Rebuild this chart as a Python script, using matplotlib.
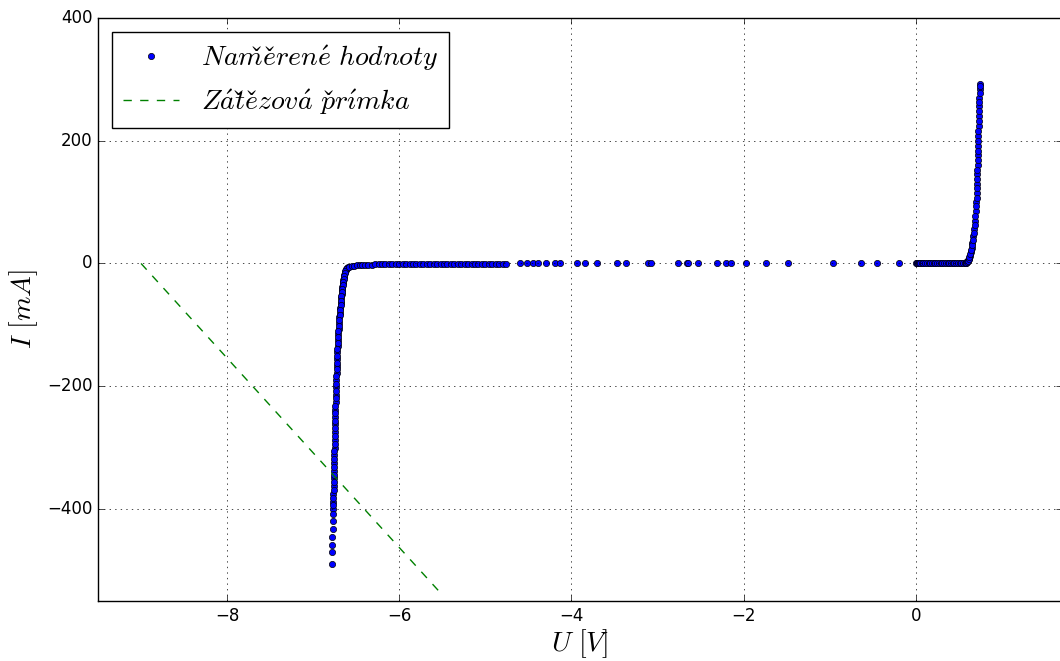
import matplotlib
matplotlib.use('Agg')
import matplotlib.pyplot as plt

# reverse breakdown branch (Zener)
zener_u = [-6.60, -6.61, -6.62, -6.63, -6.64, -6.645, -6.65, -6.655, -6.66, -6.665,
           -6.67, -6.675, -6.68, -6.685, -6.69, -6.695, -6.70, -6.705, -6.71, -6.713,
           -6.716, -6.719, -6.722, -6.725, -6.728, -6.731, -6.734, -6.737, -6.740, -6.742,
           -6.744, -6.746, -6.748, -6.750, -6.752, -6.754, -6.756, -6.758, -6.760, -6.762,
           -6.764, -6.766, -6.768, -6.770, -6.772, -6.774, -6.776, -6.777, -6.778, -6.780]
zener_i = [-6, -8, -11, -14, -18, -22, -27, -32, -38, -44,
           -50, -57, -64, -72, -80, -88, -97, -106, -115, -125,
           -135, -145, -156, -167, -178, -190, -202, -214, -226, -238,
           -250, -262, -275, -288, -300, -312, -325, -338, -350, -362,
           -375, -388, -400, -408, -420, -432, -445, -458, -470, -489]

# second sweep of the breakdown branch
zener2_u = [-6.605, -6.615, -6.625, -6.635, -6.6425, -6.6475, -6.6525, -6.6575, -6.6625, -6.6675,
            -6.6725, -6.6775, -6.6825, -6.6875, -6.6925, -6.6975, -6.7025, -6.7075, -6.7115, -6.7145,
            -6.7175, -6.7205, -6.7235, -6.7265, -6.7295, -6.7325, -6.7355, -6.7385, -6.741, -6.743,
            -6.745, -6.747, -6.749, -6.751, -6.753, -6.755, -6.757, -6.759, -6.761, -6.763,
            -6.765, -6.767]
zener2_i = [-7, -9.5, -12.5, -16, -20, -24.5, -29.5, -35, -41, -47,
            -53.5, -60.5, -68, -76, -84, -92.5, -101.5, -110.5, -120, -130,
            -140, -150.5, -161.5, -172.5, -184, -196, -208, -220, -232, -244,
            -256, -268.5, -281.5, -294, -306, -318.5, -331.5, -344, -356, -368.5,
            -381.5, -394]

# reverse region below breakdown (dense part)
rev_u = [-6.58, -6.55, -6.52, -6.49, -6.46, -6.43, -6.40, -6.36, -6.32, -6.28,
         -6.24, -6.20, -6.16, -6.12, -6.08, -6.04, -6.00, -5.96, -5.92, -5.88,
         -5.84, -5.80, -5.76, -5.72, -5.68, -5.64, -5.60, -5.56, -5.52, -5.48,
         -5.44, -5.40, -5.36, -5.32, -5.28, -5.24, -5.20, -5.16, -5.12, -5.08,
         -5.04, -5.00, -4.96, -4.92, -4.88, -4.84, -4.80, -4.76]
rev_i = [-5, -4, -3.5, -3, -2.8, -2.5, -2.3, -2, -1.8, -1.6,
         -1.5, -1.4, -1.3, -1.2, -1.1, -1.0, -1.0, -0.9, -0.9, -0.8,
         -0.8, -0.7, -0.7, -0.6, -0.6, -0.6, -0.5, -0.5, -0.5, -0.5,
         -0.4, -0.4, -0.4, -0.4, -0.3, -0.3, -0.3, -0.3, -0.3, -0.2,
         -0.2, -0.2, -0.2, -0.2, -0.2, -0.1, -0.1, -0.1]

# sparse points between -4.6 V and 0 V
sparse_u = [-4.60, -4.52, -4.45, -4.39, -4.29, -4.19, -4.13, -3.94, -3.84, -3.70,
            -3.47, -3.36, -3.11, -3.07, -2.76, -2.66, -2.64, -2.53, -2.31, -2.20,
            -2.15, -1.97, -1.74, -1.48, -0.96, -0.63, -0.45, -0.19]
sparse_i = [0, 0, 0, 0, 0, 0, 0, 0, 0, 0,
            0, 0, 0, 0, 0, 0, 0, 0, 0, 0,
            0, 0, 0, 0, 0, 0, 0, 0]

# forward branch
fwd_u = [0.00, 0.01, 0.02, 0.03, 0.04, 0.05, 0.07, 0.09, 0.11, 0.13,
         0.15, 0.17, 0.19, 0.21, 0.23, 0.25, 0.27, 0.29, 0.31, 0.33,
         0.35, 0.37, 0.39, 0.41, 0.43, 0.45, 0.47, 0.49, 0.51, 0.53,
         0.55, 0.57,
         0.58, 0.59, 0.60, 0.61, 0.62, 0.63, 0.64, 0.65, 0.66, 0.67,
         0.68, 0.69, 0.70, 0.705, 0.71, 0.713, 0.716, 0.719, 0.722, 0.725,
         0.728, 0.731, 0.734, 0.737, 0.740, 0.743, 0.745]
fwd_i = [0, 0, 0, 0, 0, 0, 0, 0, 0, 0,
         0, 0, 0, 0, 0, 0, 0, 0, 0, 0,
         0, 0, 0, 0, 0, 0, 0, 0.1, 0.1, 0.2,
         0.3, 0.5,
         1, 2, 3, 5, 8, 12, 18, 25, 34, 44,
         56, 70, 86, 100, 115, 130, 145, 160, 176, 192,
         208, 224, 240, 256, 270, 284, 293]

# second sweep of the forward branch
fwd2_u = [0.585, 0.595, 0.605, 0.615, 0.625, 0.635, 0.645, 0.655, 0.665, 0.675,
          0.685, 0.695, 0.7025, 0.7075, 0.7115, 0.7145, 0.7175, 0.7205, 0.7235, 0.7265,
          0.7295, 0.7325, 0.7355, 0.7385, 0.7415, 0.744]
fwd2_i = [1.5, 2.5, 4, 6.5, 10, 15, 21.5, 29.5, 39, 50,
          63, 78, 93, 107.5, 122.5, 137.5, 152.5, 168, 184, 200,
          216, 232, 248, 263, 277, 288.5]

# load line
load_u = [-9.0, -5.5]
load_i = [0, -540]

U = zener_u + zener2_u + rev_u + sparse_u + fwd_u + fwd2_u
I = zener_i + zener2_i + rev_i + sparse_i + fwd_i + fwd2_i

plt.style.use('classic')
plt.rcParams['mathtext.fontset'] = 'cm'

fig = plt.figure(figsize=(10.6, 6.61), dpi=100, facecolor='white')
ax = fig.add_axes([98 / 1060, 60 / 661, 964 / 1060, 583 / 661])

ax.plot(U, I, '.', color='b', markeredgecolor='k', markeredgewidth=0.5,
        markersize=9, label=r'$Nam\check{e}\check{r}en\acute{e}\ hodnoty$')
ax.plot(load_u, load_i, 'g--', label=r'$Z\acute{a}t\check{e}\check{z}ov\acute{a}\ p\check{r}\acute{\imath}mka$')

ax.set_xlim(-9.5, 1.7)
ax.set_ylim(-550, 400)
ax.set_xticks([-8, -6, -4, -2, 0])
ax.set_yticks([-400, -200, 0, 200, 400])
ax.set_xlabel(r'$U\ [V]$', fontsize=20, labelpad=2)
ax.set_ylabel(r'$I\ [mA]$', fontsize=20)
ax.grid(True)
ax.legend(loc='upper left', numpoints=1, fontsize=20)

fig.savefig('out.png', dpi=100, facecolor='white')
